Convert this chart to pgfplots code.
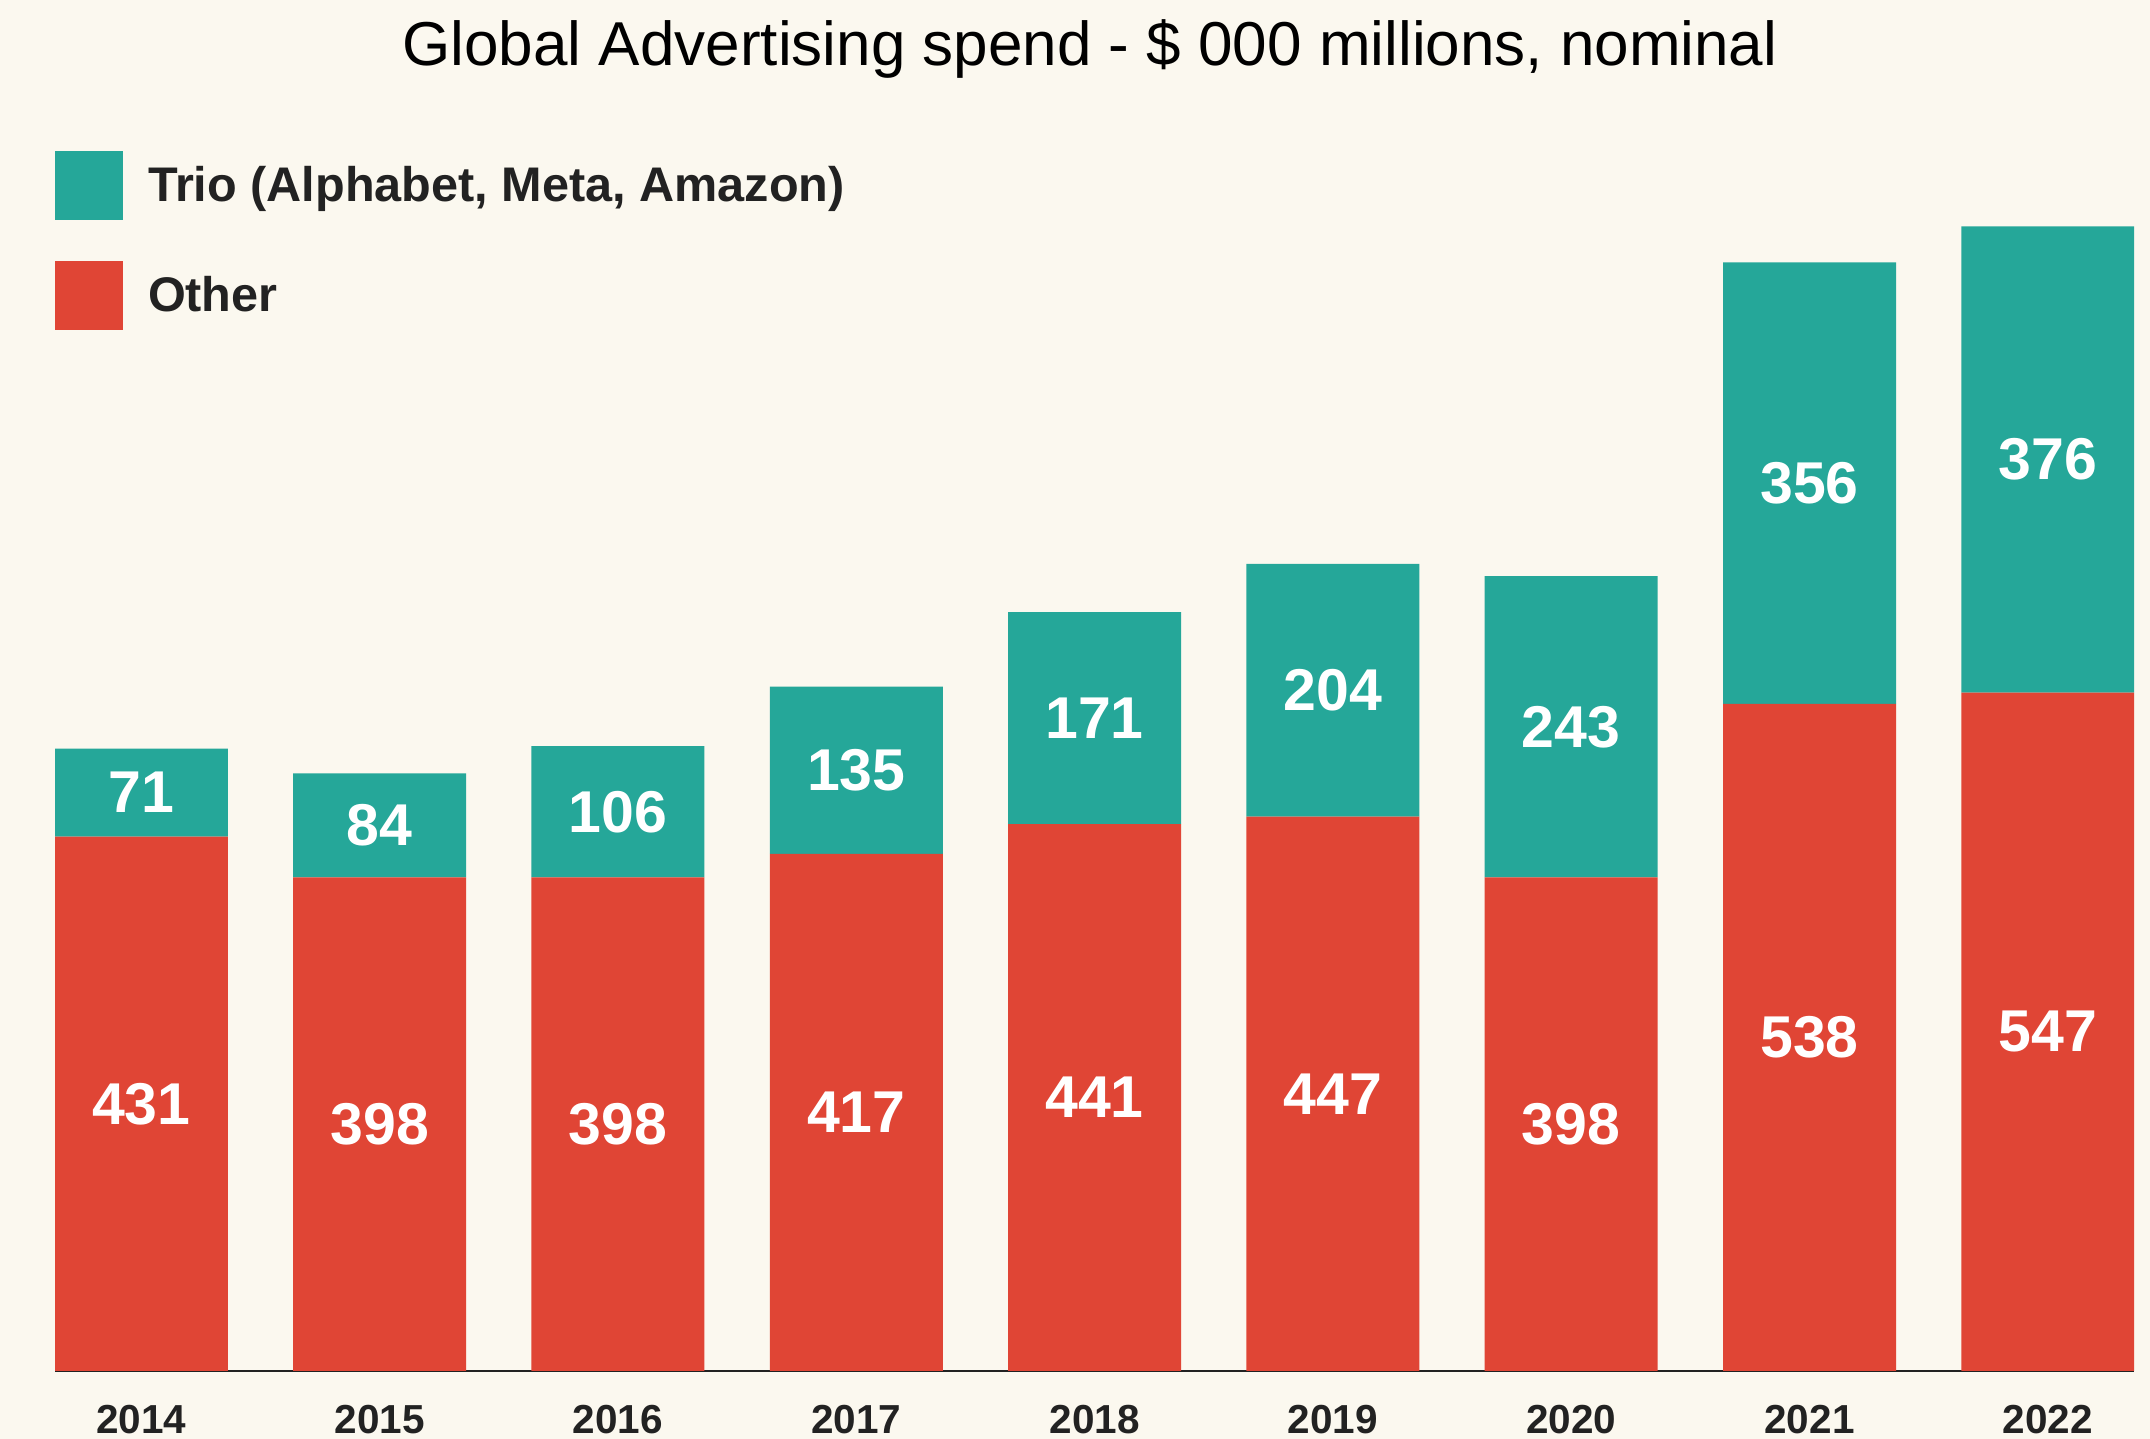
\documentclass[border=0pt]{standalone}
\usepackage{pgfplots}
\pgfplotsset{compat=1.18}
\usepackage{pgfplotstable}
\usepackage{fontspec}
\setmainfont{Liberation Sans}
\definecolor{bgc}{HTML}{FBF8EF}
\definecolor{trioc}{HTML}{25A799}
\definecolor{otherc}{HTML}{E04535}
\definecolor{txtc}{HTML}{222222}

\pgfplotstableread{
year other trio
2014 431 71
2015 398 84
2016 398 106
2017 417 135
2018 441 171
2019 447 204
2020 398 243
2021 538 356
2022 547 376
}\data

\pgfplotsset{
  baseaxis/.style={
    x=119.15bp, y=0.62bp,
    xmin=-0.3625, xmax=8.3625, ymin=0, ymax=1000,
    at={(27.5bp,34bp)}, anchor=south west,
  },
  sqlegend/.style={
    legend image code/.code={\fill[##1] (0bp,-17.25bp) rectangle (34bp,17.25bp);}
  },
}

\begin{document}
\begin{tikzpicture}
\path[use as bounding box, fill=bgc] (0,0) rectangle (1075bp,719.5bp);
\node[anchor=base, inner sep=0pt, font=\fontsize{31bp}{37bp}\selectfont, text=black] at (545bp,686.5bp) {Global Advertising spend - \$ 000 millions, nominal};

\begin{axis}[
  baseaxis,
  ybar stacked, bar width=86.5bp,
  axis x line*=bottom, axis y line=none,
  xtick={0,...,8},
  xticklabels={2014,2015,2016,2017,2018,2019,2020,2021,2022},
  major tick length=0pt,
  x tick label style={font=\fontsize{20.25bp}{24bp}\selectfont\bfseries, text=txtc, inner sep=0pt, anchor=north, yshift=-17bp},
  x axis line style={draw=txtc, line width=0.75bp},
  reverse legend,
  legend style={at={(0,0.98387)}, anchor=north west, draw=none, fill=none,
    inner sep=0pt, outer sep=0pt,
    font=\fontsize{24.3bp}{29bp}\selectfont\bfseries, text=txtc,
    nodes={inner sep=0pt},
    /tikz/column sep=12.5bp, /tikz/row sep=20.5bp,
    cells={anchor=west}},
]
\addplot[fill=otherc, draw=none, sqlegend] table[x expr=\coordindex, y=other]{\data};
\addlegendentry{Other\vphantom{(}}
\addplot[fill=trioc, draw=none, sqlegend] table[x expr=\coordindex, y=trio]{\data};
\addlegendentry{Trio (Alphabet, Meta, Amazon)}
\end{axis}

\begin{axis}[
  baseaxis, hide axis,
  nodes near coords, point meta=explicit,
  nodes near coords align=center,
  /pgf/number format/assume math mode=true,
  every node near coord/.append style={anchor=center, inner sep=0pt,
    font=\fontsize{29.5bp}{35bp}\selectfont\bfseries, text=white},
]
\addplot[draw=none, mark=none] table[x expr=\coordindex, y expr=\thisrow{other}/2, meta=other]{\data};
\addplot[draw=none, mark=none] table[x expr=\coordindex, y expr=\thisrow{other}+\thisrow{trio}/2, meta=trio]{\data};
\end{axis}
\end{tikzpicture}
\end{document}
